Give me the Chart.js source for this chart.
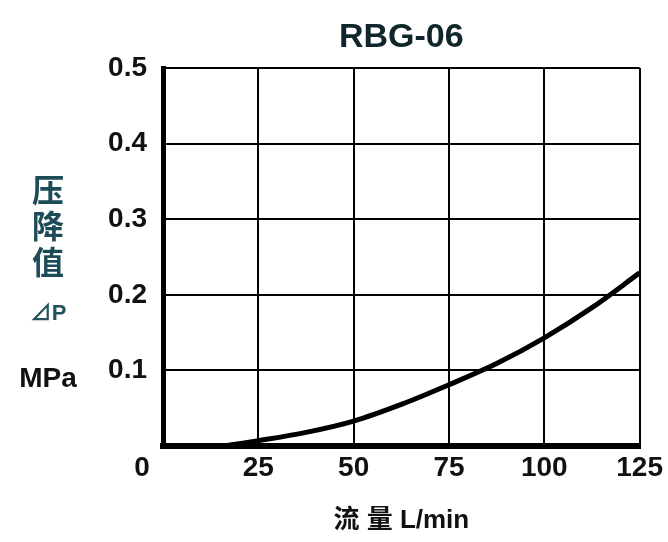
<!DOCTYPE html>
<html>
<head>
<meta charset="utf-8">
<script src="https://cdn.jsdelivr.net/npm/chart.js@4.4.1/dist/chart.umd.min.js"></script>
<style>
  html, body { margin: 0; padding: 0; background: #ffffff; }
  #wrap { width: 668px; height: 542px; }
</style>
</head>
<body>
<div id="wrap"><canvas id="c" width="668" height="542"></canvas></div>
<script>
// Pressure drop vs. flow rate, check valve RBG-06
const chartTitle = 'RBG-06';
const flowTicks = [0, 25, 50, 75, 100, 125];
const pressureTicks = [0, 0.1, 0.2, 0.3, 0.4, 0.5];
const flowRate = [16, 25, 37.5, 50, 62.5, 75, 87.5, 100, 112.5, 125];
const pressureDrop = [0, 0.007, 0.018, 0.033, 0.055, 0.081, 0.109, 0.143, 0.183, 0.229];
const xAxisTitle = '流 量 L/min';
const yAxisTitleLines = ['压', '降', '值', '⊿P', 'MPa'];

const SANS = "'Liberation Sans', Arial, 'Noto Sans CJK SC', sans-serif";

// Stacked, upright caption at the left of the y axis
const stackedCaption = {
  id: 'stackedCaption',
  afterDraw(chart, args, opts) {
    const ctx = chart.ctx;
    ctx.save();
    ctx.textAlign = 'center';
    ctx.textBaseline = 'middle';
    opts.rows.forEach(r => {
      ctx.font = r.font;
      ctx.fillStyle = r.color;
      ctx.fillText(r.text, opts.x, r.y);
    });
    ctx.restore();
  }
};

const rowStyle = [
  { y: 190, font: "bold 32px 'Noto Sans CJK SC', sans-serif", color: '#1d4c58' },
  { y: 226, font: "bold 32px 'Noto Sans CJK SC', sans-serif", color: '#1d4c58' },
  { y: 262, font: "bold 32px 'Noto Sans CJK SC', sans-serif", color: '#1d4c58' },
  { y: 314, font: "bold 22px " + SANS, color: '#24525e' },
  { y: 379, font: "bold 28px " + SANS, color: '#111111' }
];

new Chart(document.getElementById('c'), {
  type: 'line',
  data: {
    datasets: [{
      data: flowRate.map((x, i) => ({ x: x, y: pressureDrop[i] })),
      borderColor: '#000000',
      borderWidth: 5,
      pointRadius: 0,
      fill: false,
      cubicInterpolationMode: 'monotone'
    }]
  },
  plugins: [stackedCaption],
  options: {
    responsive: false,
    animation: false,
    devicePixelRatio: 1,
    layout: { padding: { left: 0, right: 27, top: 0, bottom: 0 } },
    plugins: {
      legend: { display: false },
      tooltip: { enabled: false },
      stackedCaption: {
        x: 48,
        rows: yAxisTitleLines.map((t, i) => Object.assign({ text: t }, rowStyle[i]))
      }
    },
    scales: {
      x: {
        type: 'linear',
        position: 'bottom',
        min: 0,
        max: 125,
        afterBuildTicks: s => { s.ticks = flowTicks.map(v => ({ value: v })); },
        afterFit: s => { s.height = 96; },
        grid: { color: '#000000', lineWidth: 2, drawTicks: false },
        border: { display: true, color: '#000000', width: 6 },
        ticks: {
          padding: 5,
          autoSkip: false,
          maxRotation: 0,
          color: '#111111',
          font: { family: SANS, size: 28, weight: 'bold' },
          callback: v => (v === 0 ? '0\u2003\u2002' : String(v))
        },
        title: {
          display: true,
          text: xAxisTitle,
          color: '#111111',
          font: { family: SANS, size: 26, weight: 'bold' },
          padding: { top: 0, bottom: 6 }
        }
      },
      xTop: {
        type: 'linear',
        position: 'top',
        min: 0,
        max: 125,
        afterFit: s => { s.height = 68; },
        grid: { display: false },
        border: { display: false },
        ticks: { display: false },
        title: {
          display: true,
          text: chartTitle,
          color: '#10262c',
          font: { family: SANS, size: 34, weight: 'bold' },
          padding: { top: 17, bottom: 0 }
        }
      },
      y: {
        type: 'linear',
        min: 0,
        max: 0.5,
        afterBuildTicks: s => { s.ticks = pressureTicks.map(v => ({ value: v })); },
        afterFit: s => { s.width = 163; },
        grid: { color: '#000000', lineWidth: 2, drawTicks: false },
        border: { display: true, color: '#000000', width: 5 },
        ticks: {
          padding: 16,
          color: '#111111',
          font: { family: SANS, size: 28, weight: 'bold' },
          callback: v => (v === 0 ? '' : v.toFixed(1))
        }
      }
    }
  }
});
</script>
</body>
</html>
